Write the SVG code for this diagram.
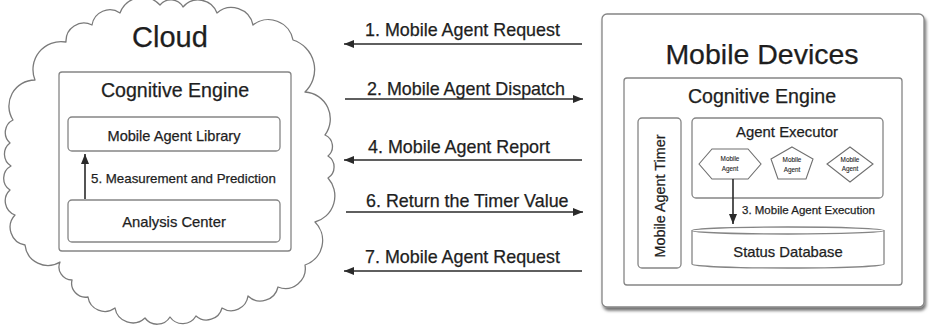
<svg xmlns="http://www.w3.org/2000/svg" width="929" height="326" viewBox="0 0 929 326">
  <style>
    text { font-family: "Liberation Sans", Arial, sans-serif; fill: #1e1e1e; stroke: #1e1e1e; stroke-width: 0.25; }
    .box { fill: #fff; stroke: #858585; stroke-width: 1.3; }
    .cloud { fill: #fff; stroke: #7a7a7a; stroke-width: 1.3; stroke-linejoin: round; }
    .agent { fill: #fff; stroke: #6f6f6f; stroke-width: 1.1; }
    .conn { stroke: #2a2a2a; stroke-width: 1.6; fill: none; marker-end: url(#head); }
    .mid { font-size: 17.9px; }
    .small { font-size: 6.4px; text-anchor: middle; stroke-width: 0.1; }
  </style>
  <defs>
    <marker id="head" markerUnits="userSpaceOnUse" markerWidth="11" markerHeight="8" refX="10" refY="4" orient="auto">
      <path d="M0,0 L10,4 L0,8 Z" fill="#2a2a2a"/>
    </marker>
    <filter id="shadow" x="-5%" y="-5%" width="112%" height="115%">
      <feDropShadow dx="1.5" dy="3" stdDeviation="1.8" flood-color="#000" flood-opacity="0.55"/>
    </filter>
  </defs>

  <!-- Cloud side -->
  <g id="cloud">
    <path class="cloud" d="M13,120
      A26,26 0 0 1 35,80 A28,28 0 0 1 66,42 A18,18 0 0 1 92,25 A18,18 0 0 1 120,13
      A24,24 0 0 1 160,5 A14,14 0 0 1 183,7 A20,20 0 0 1 217,13 A22,22 0 0 1 253,25
      A25,25 0 0 1 293,40 A31,31 0 0 1 305,92 A27,27 0 0 1 325,135 A12.5,12.5 0 0 1 328,156
      A13,13 0 0 1 328,178 A27,27 0 0 1 315,222 A26,26 0 0 1 305,265 A20,20 0 0 1 278,287
      A18,18 0 0 1 248,296 A17,17 0 0 1 222,308 A16,16 0 0 1 196,316 A15.5,15.5 0 0 1 170,317
      A15,15 0 0 1 145,318 A18,18 0 0 1 115,308 A17,17 0 0 1 88,297 A14,14 0 0 1 72,280
      A13,13 0 0 1 60,262 A23,23 0 0 1 25,245 A18,18 0 0 1 15,215 A15,15 0 0 1 10,190
      A14,14 0 0 1 11,166 A14,14 0 0 1 10,143 A14,14 0 0 1 13,120 Z"/>
    <text x="170" y="47" font-size="29" text-anchor="middle">Cloud</text>
  </g>

  <g id="cloud-engine">
    <rect class="box" x="59" y="72" width="232" height="179" rx="3"/>
    <text x="175" y="97" font-size="19.6" text-anchor="middle">Cognitive Engine</text>
  </g>

  <g id="agent-library">
    <rect class="box" x="68" y="117" width="212" height="34" rx="4"/>
    <text x="174" y="141" font-size="14.6" text-anchor="middle">Mobile Agent Library</text>
  </g>

  <g id="analysis-center">
    <rect class="box" x="68" y="200" width="212" height="42" rx="4"/>
    <text x="174" y="227" font-size="14.8" text-anchor="middle">Analysis Center</text>
  </g>

  <!-- Mobile devices side -->
  <g id="mobile-devices">
    <rect class="box" x="602" y="14" width="322" height="293" rx="5" filter="url(#shadow)"/>
    <text x="762" y="64" font-size="28.5" text-anchor="middle">Mobile Devices</text>
  </g>

  <g id="device-engine">
    <rect class="box" x="624" y="78" width="278" height="207" rx="3"/>
    <text x="762" y="103" font-size="19.6" text-anchor="middle">Cognitive Engine</text>
  </g>

  <g id="agent-timer">
    <rect class="box" x="638" y="118" width="43" height="150" rx="4"/>
    <text transform="translate(665,196) rotate(-90)" font-size="14.4" text-anchor="middle">Mobile Agent Timer</text>
  </g>

  <g id="agent-executor">
    <rect class="box" x="692" y="118" width="191" height="80" rx="4"/>
    <text x="787" y="137" font-size="14.9" text-anchor="middle">Agent Executor</text>
  </g>

  <g id="agent-hexagon">
    <polygon class="agent" points="699,164 712,149 748,149 761,164 748,179 712,179"/>
    <text class="small" x="730" y="161">Mobile</text>
    <text class="small" x="730" y="171">Agent</text>
  </g>

  <g id="agent-pentagon">
    <polygon class="agent" points="792,147 813,159 806,179 778,179 771,159"/>
    <text class="small" x="792" y="162">Mobile</text>
    <text class="small" x="792" y="172">Agent</text>
  </g>

  <g id="agent-diamond">
    <polygon class="agent" points="850,147 873,164 850,182 827,164"/>
    <text class="small" x="850" y="162">Mobile</text>
    <text class="small" x="850" y="171">Agent</text>
  </g>

  <g id="status-database">
    <path class="box" d="M692,230.5 A96,3.5 0 0 1 884,230.5 L884,264 A96,4 0 0 1 692,264 Z"/>
    <path class="box" fill="none" d="M692,230.5 A96,3.5 0 0 0 884,230.5"/>
    <text x="788" y="257" font-size="14.8" text-anchor="middle">Status Database</text>
  </g>

  <!-- Connectors and their labels -->
  <g id="connectors">
    <line class="conn" x1="85" y1="199" x2="85" y2="154"/>
    <text x="91" y="183" font-size="13.3">5. Measurement and Prediction</text>

    <line class="conn" x1="733" y1="179" x2="733" y2="224"/>
    <text x="742" y="214" font-size="11.5">3. Mobile Agent Execution</text>

    <line class="conn" x1="582" y1="44" x2="344" y2="44"/>
    <text class="mid" x="365" y="36">1. Mobile Agent Request</text>

    <line class="conn" x1="345" y1="99" x2="583" y2="99"/>
    <text class="mid" x="367" y="95">2. Mobile Agent Dispatch</text>

    <line class="conn" x1="582" y1="160" x2="344" y2="160"/>
    <text class="mid" x="368" y="153">4. Mobile Agent Report</text>

    <line class="conn" x1="346" y1="212" x2="583" y2="212"/>
    <text class="mid" x="366" y="207">6. Return the Timer Value</text>

    <line class="conn" x1="582" y1="271" x2="344" y2="271"/>
    <text class="mid" x="365" y="263">7. Mobile Agent Request</text>
  </g>
</svg>
